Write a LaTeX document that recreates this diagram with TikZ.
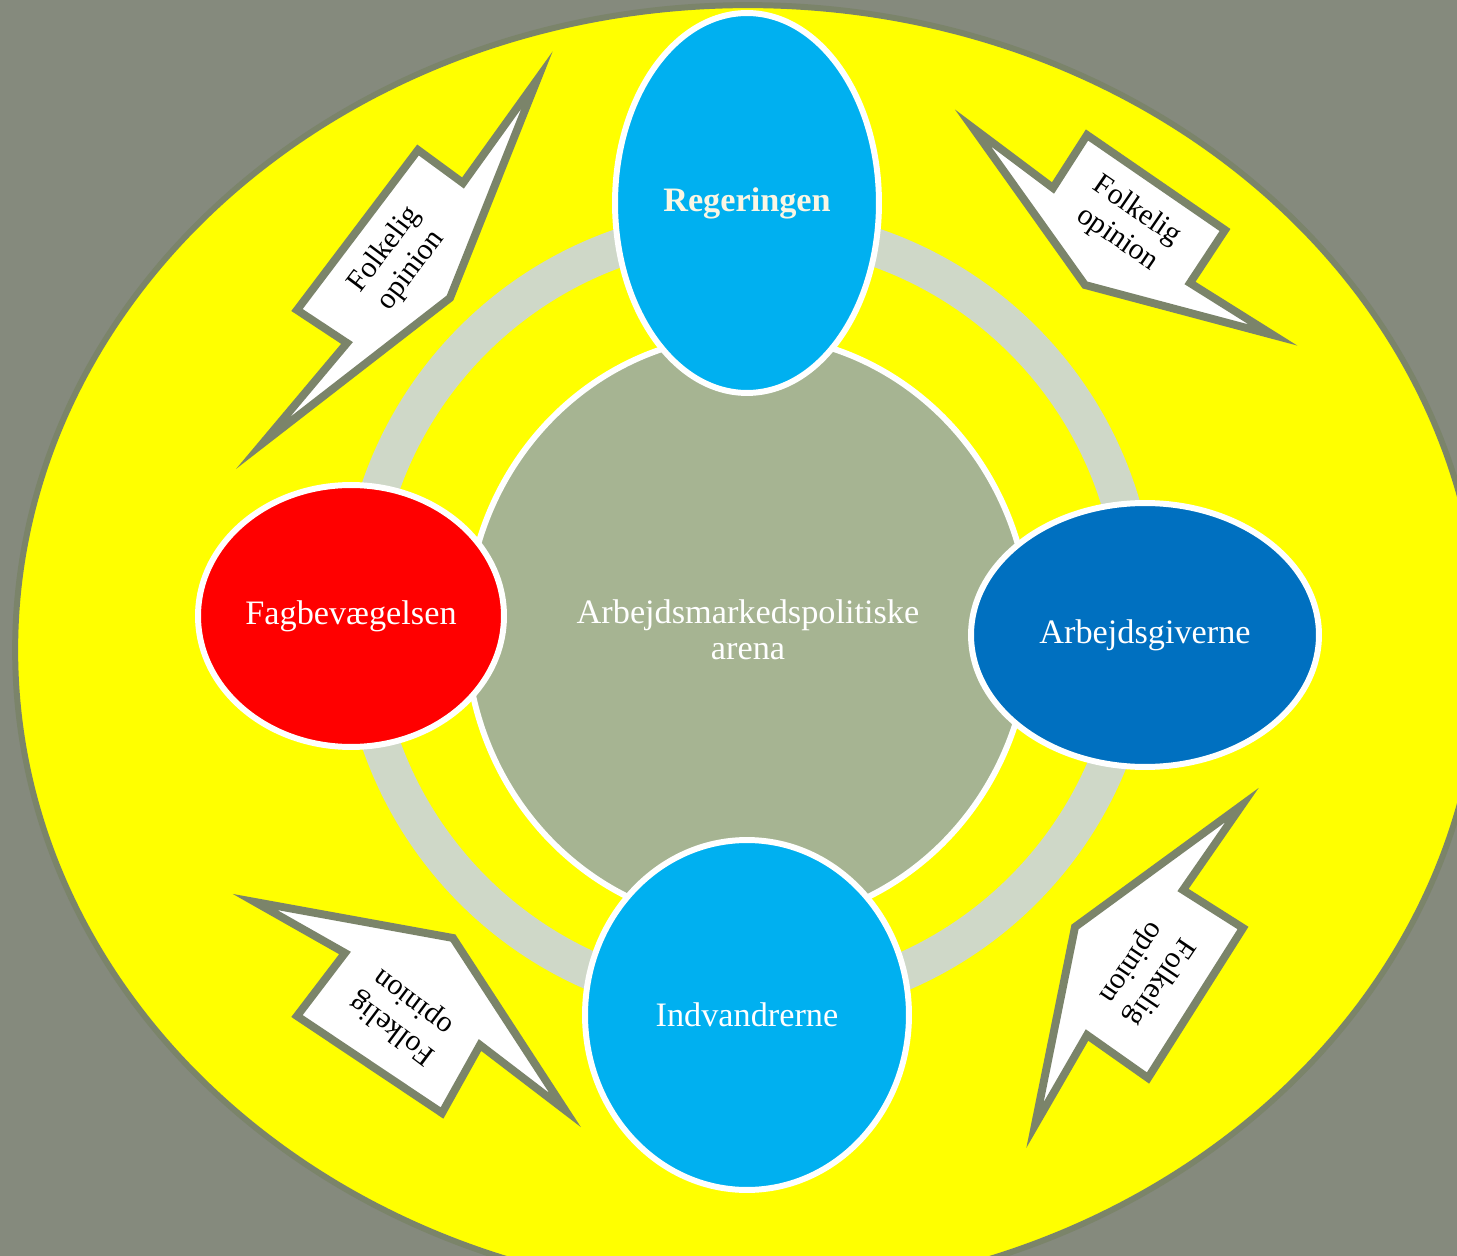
\documentclass[tikz,border=0pt]{standalone}
\usepackage{fontspec}
\setmainfont{Liberation Serif}
\usetikzlibrary{shapes}
\definecolor{slate}{RGB}{133,138,125}
\definecolor{rim}{RGB}{123,132,106}
\definecolor{field}{RGB}{255,255,0}
\definecolor{ringgrey}{RGB}{207,216,200}
\definecolor{sage}{RGB}{166,180,146}
\definecolor{skyblue}{RGB}{0,176,240}
\definecolor{deepblue}{RGB}{0,112,192}
\definecolor{cream}{RGB}{250,246,228}

\begin{document}
\begin{tikzpicture}[x=0.02cm,y=-0.02cm]
\tikzstyle{actor}=[ellipse, draw=white, line width=3.4pt, inner sep=0pt, text=white, align=center, font=\fontsize{19.5}{20.5}\selectfont]
\tikzstyle{opinion}=[fill=white, draw=rim, line width=4.5pt, line join=miter]
\tikzstyle{opiniontext}=[inner sep=0pt, align=center, text=black, font=\fontsize{17}{19.5}\selectfont]

\useasboundingbox (0,0) rectangle (1457,1256);
\fill[slate] (0,0) rectangle (1457,1256);
\clip (0,0) rectangle (1457,1256);

% outer field and ring
\draw[fill=field, draw=rim, line width=3.4pt] (748,650) ellipse (14.66cm and 12.9cm);
\draw[ringgrey, line width=0.76cm] (748,615) circle (7.78cm);

% the arena and the four actors
\node[actor, fill=sage, minimum width=11.28cm, minimum height=11.8cm] (arena) at (748,630) {Arbejdsmarkedspolitiske\\arena};
\node[actor, fill=skyblue, text=cream, font=\bfseries\fontsize{19.5}{20.5}\selectfont, minimum width=5.28cm, minimum height=7.6cm] (regering) at (747,203) {Regeringen};
\node[actor, fill=red, minimum width=6.12cm, minimum height=5.24cm] (fag) at (351,616) {Fagbevægelsen};
\node[actor, fill=deepblue, minimum width=6.96cm, minimum height=5.28cm] (arbgiv) at (1145,635) {Arbejdsgiverne};
\node[actor, fill=skyblue, minimum width=6.48cm, minimum height=7cm] (indv) at (747,1015) {Indvandrerne};

% folkelig opinion arrows
\draw[opinion] (297,310) -- (418,150) -- (463,183) -- (537,80) -- (450,298) -- (263,443) -- (347,343) -- cycle;
\node[opiniontext, rotate=53] (opTL) at (398,260) {Folkelig\\opinion};
\draw[opinion] (1087,135) -- (1225,230) -- (1190,283) -- (1273,335) -- (1085,285) -- (973,128) -- (1053,188) -- cycle;
\node[opiniontext, rotate=-34.5] (opTR) at (1127,225) {Folkelig\\opinion};
\draw[opinion] (442,1113) -- (297,1016) -- (345,953) -- (255,902) -- (453,938) -- (565,1110) -- (480,1045) -- cycle;
\node[opiniontext, rotate=143] (opBL) at (403,1015) {Folkelig\\opinion};
\draw[opinion] (1243,928) -- (1148,1078) -- (1087,1035) -- (1035,1125) -- (1075,927) -- (1242,805) -- (1183,890) -- cycle;
\node[opiniontext, rotate=-124] (opBR) at (1145,972) {Folkelig\\opinion};
\end{tikzpicture}
\end{document}
